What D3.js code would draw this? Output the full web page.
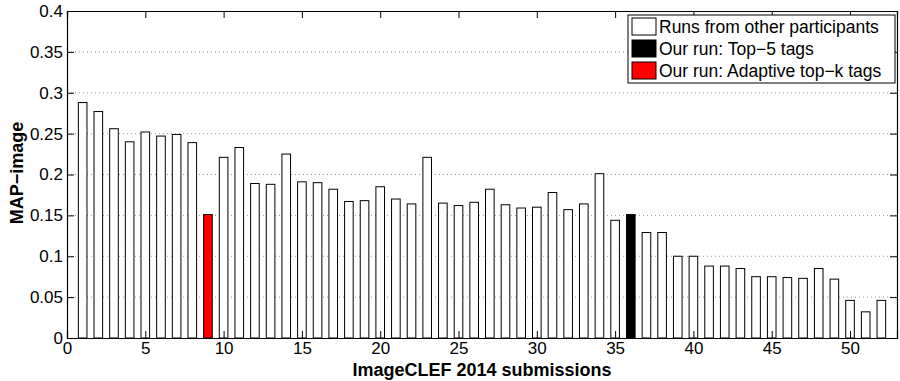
<!DOCTYPE html>
<html>
<head>
<meta charset="utf-8">
<script src="https://cdn.jsdelivr.net/npm/d3@7"></script>
<style>
  body { margin: 0; background: #fff; }
  svg { font-family: "Liberation Sans", Arial, sans-serif; }
</style>
</head>
<body>
<div id="chart"></div>
<script>
// MAP-image per submission (1..52)
var submissions = d3.range(1, 53)
var mapImage = [
  0.288, 0.277, 0.256, 0.240, 0.252, 0.247, 0.249, 0.239, 0.151, 0.221,
  0.233, 0.189, 0.188, 0.225, 0.191, 0.190, 0.182, 0.167, 0.168, 0.185,
  0.170, 0.164, 0.221, 0.165, 0.162, 0.166, 0.182, 0.163, 0.159, 0.160,
  0.178, 0.157, 0.164, 0.201, 0.144, 0.151, 0.129, 0.129, 0.100, 0.100,
  0.088, 0.088, 0.085, 0.075, 0.075, 0.074, 0.073, 0.085, 0.072, 0.046,
  0.032, 0.046
]
var top5Run = 36      // black bar
var adaptiveRun = 9   // red bar
var xTicks = [0, 5, 10, 15, 20, 25, 30, 35, 40, 45, 50]
var yTicks = [0, 0.05, 0.1, 0.15, 0.2, 0.25, 0.3, 0.35, 0.4]
var legendItems = [
  {label: "Runs from other participants", fill: "#fff"},
  {label: "Our run: Top\u22125 tags", fill: "#000"},
  {label: "Our run: Adaptive top\u2212k tags", fill: "#f00"}
]

var width = 900, height = 381
var margin = {top: 11, right: 3, bottom: 43, left: 67}
var w = width - margin.left - margin.right
var h = height - margin.top - margin.bottom

var svg = d3.select("#chart").append("svg")
  .attr("width", width)
  .attr("height", height)

var g = svg.append("g").attr("transform", "translate(" + margin.left + "," + margin.top + ")")

var x = d3.scaleLinear().domain([0, 53]).range([0, w])
var y = d3.scaleLinear().domain([0, 0.4]).range([h, 0])

// dotted grid
g.selectAll(".grid")
  .data(yTicks.slice(1, -1))
  .enter().append("line")
  .attr("x1", 0).attr("x2", w)
  .attr("y1", function(d) { return y(d) }).attr("y2", function(d) { return y(d) })
  .style("stroke", "#999")
  .style("stroke-width", 1)
  .style("stroke-dasharray", "1,3")

var barW = x(0.55) - x(0)

g.selectAll(".bar")
  .data(mapImage)
  .enter().append("rect")
  .attr("class", "bar")
  .attr("x", function(d, i) { return x(submissions[i]) - barW / 2 })
  .attr("y", function(d) { return y(d) })
  .attr("width", barW)
  .attr("height", function(d) { return h - y(d) })
  .style("fill", function(d, i) {
    if (submissions[i] === top5Run) return "#000"
    if (submissions[i] === adaptiveRun) return "#f00"
    return "#fff"
  })
  .style("stroke", "#000")
  .style("stroke-width", 1)

// axes: ticks point inward, like matlab
var xAxis = g.append("g").attr("transform", "translate(0," + h + ")")
  .call(d3.axisBottom(x).tickValues(xTicks).tickSize(-7).tickPadding(6).tickFormat(d3.format("d")))
var xTop = g.append("g")
  .call(d3.axisTop(x).tickValues(xTicks).tickSize(-7).tickFormat(""))
var yAxis = g.append("g")
  .call(d3.axisLeft(y).tickValues(yTicks).tickSize(-7).tickPadding(10).tickFormat(function(d) { return d3.format("")(+d.toFixed(2)) }))
var yRight = g.append("g").attr("transform", "translate(" + w + ",0)")
  .call(d3.axisRight(y).tickValues(yTicks).tickSize(-7).tickFormat(""))

;[xAxis, xTop, yAxis, yRight].forEach(function(a) {
  a.select(".domain").style("stroke", "#000").style("stroke-width", 1.2)
  a.selectAll(".tick line").style("stroke", "#000")
  a.selectAll("text").style("font-size", "17px").style("fill", "#000")
    .style("font-family", "'Liberation Sans', Arial, sans-serif")
})
xAxis.selectAll("text").attr("dy", "0.6em")
yAxis.selectAll("text").attr("dx", "6px")

// axis titles
svg.append("text")
  .attr("x", margin.left + x(26.5))
  .attr("y", 376)
  .attr("text-anchor", "middle")
  .style("font-weight", "bold")
  .style("font-size", "18px")
  .text("ImageCLEF 2014 submissions")

svg.append("text")
  .attr("transform", "translate(23,173) rotate(-90)")
  .attr("text-anchor", "middle")
  .style("font-weight", "bold")
  .style("font-size", "18px")
  .text("MAP\u2212image")

// legend
var lg = svg.append("g").attr("transform", "translate(628,15)")
lg.append("rect")
  .attr("width", 267).attr("height", 68)
  .style("fill", "#fff").style("stroke", "#000").style("stroke-width", 1)

var items = lg.selectAll(".item")
  .data(legendItems)
  .enter().append("g")
  .attr("transform", function(d, i) { return "translate(4," + (3 + i * 22) + ")" })
items.append("rect")
  .attr("width", 24).attr("height", 17)
  .style("fill", function(d) { return d.fill })
  .style("stroke", "#000")
items.append("text")
  .attr("x", 27).attr("y", 15)
  .style("font-size", "17.5px")
  .text(function(d) { return d.label })
</script>
</body>
</html>
